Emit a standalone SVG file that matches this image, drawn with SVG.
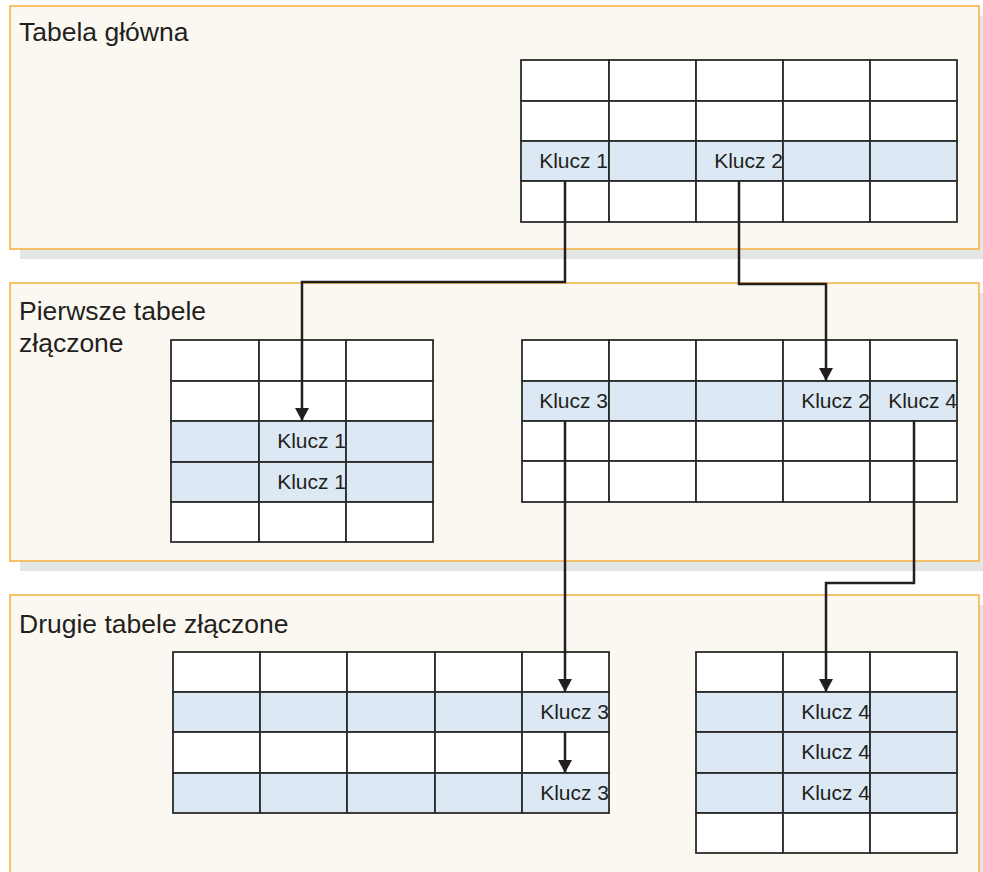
<svg xmlns="http://www.w3.org/2000/svg" width="983" height="872" viewBox="0 0 983 872">
<defs>
<style>
.shadow{fill:#e4e5e7}
.panel{fill:#fbf8f1;stroke:#f4b547;stroke-width:1.6}
.cell{fill:#ffffff;stroke:#2b2b2b;stroke-width:1.8}
.hl{fill:#dce9f4;stroke:#2b2b2b;stroke-width:1.8}
.title{font-family:"Liberation Sans",Arial,sans-serif;font-size:26.5px;fill:#231f20}
.key{font-family:"Liberation Sans",Arial,sans-serif;font-size:21px;fill:#231f20;text-anchor:end}
.conn{fill:none;stroke:#231f20;stroke-width:2.5;stroke-linejoin:miter}
</style>
<marker id="arr" markerWidth="14" markerHeight="14" refX="13" refY="7" orient="auto" markerUnits="userSpaceOnUse" viewBox="0 0 14 14">
<path d="M0,0 L13,7 L0,14 Z" fill="#231f20"/>
</marker>
</defs>

<g id="panel-main">
<rect class="shadow" x="20" y="16" width="970" height="243"/>
<rect class="panel" x="10" y="6" width="969" height="243"/>
<text class="title" x="19" y="41">Tabela główna</text>
</g>
<g id="panel-first">
<rect class="shadow" x="20" y="293" width="970" height="278"/>
<rect class="panel" x="10" y="283" width="969" height="278"/>
<text class="title" x="19" y="320">Pierwsze tabele</text>
<text class="title" x="19" y="352">złączone</text>
</g>
<g id="panel-second">
<rect class="shadow" x="20" y="605" width="970" height="290"/>
<rect class="panel" x="10" y="595" width="969" height="290"/>
<text class="title" x="19" y="633">Drugie tabele złączone</text>
</g>

<g id="table-main">
<rect class="cell" x="521" y="60" width="88" height="41"/><rect class="cell" x="609" y="60" width="87" height="41"/><rect class="cell" x="696" y="60" width="87" height="41"/><rect class="cell" x="783" y="60" width="87" height="41"/><rect class="cell" x="870" y="60" width="87" height="41"/>
<rect class="cell" x="521" y="101" width="88" height="40"/><rect class="cell" x="609" y="101" width="87" height="40"/><rect class="cell" x="696" y="101" width="87" height="40"/><rect class="cell" x="783" y="101" width="87" height="40"/><rect class="cell" x="870" y="101" width="87" height="40"/>
<rect class="hl" x="521" y="141" width="88" height="40"/><rect class="hl" x="609" y="141" width="87" height="40"/><rect class="hl" x="696" y="141" width="87" height="40"/><rect class="hl" x="783" y="141" width="87" height="40"/><rect class="hl" x="870" y="141" width="87" height="40"/>
<rect class="cell" x="521" y="181" width="88" height="41"/><rect class="cell" x="609" y="181" width="87" height="41"/><rect class="cell" x="696" y="181" width="87" height="41"/><rect class="cell" x="783" y="181" width="87" height="41"/><rect class="cell" x="870" y="181" width="87" height="41"/>
<text class="key" x="608" y="168">Klucz 1</text>
<text class="key" x="783" y="168">Klucz 2</text>
</g>

<g id="table-first-left">
<rect class="cell" x="171" y="340" width="88" height="41"/><rect class="cell" x="259" y="340" width="87" height="41"/><rect class="cell" x="346" y="340" width="87" height="41"/>
<rect class="cell" x="171" y="381" width="88" height="40"/><rect class="cell" x="259" y="381" width="87" height="40"/><rect class="cell" x="346" y="381" width="87" height="40"/>
<rect class="hl" x="171" y="421" width="88" height="41"/><rect class="hl" x="259" y="421" width="87" height="41"/><rect class="hl" x="346" y="421" width="87" height="41"/>
<rect class="hl" x="171" y="462" width="88" height="40"/><rect class="hl" x="259" y="462" width="87" height="40"/><rect class="hl" x="346" y="462" width="87" height="40"/>
<rect class="cell" x="171" y="502" width="88" height="40"/><rect class="cell" x="259" y="502" width="87" height="40"/><rect class="cell" x="346" y="502" width="87" height="40"/>
<text class="key" x="346" y="448">Klucz 1</text>
<text class="key" x="346" y="489">Klucz 1</text>
</g>

<g id="table-first-right">
<rect class="cell" x="522" y="340" width="87" height="41"/><rect class="cell" x="609" y="340" width="87" height="41"/><rect class="cell" x="696" y="340" width="87" height="41"/><rect class="cell" x="783" y="340" width="87" height="41"/><rect class="cell" x="870" y="340" width="87" height="41"/>
<rect class="hl" x="522" y="381" width="87" height="40"/><rect class="hl" x="609" y="381" width="87" height="40"/><rect class="hl" x="696" y="381" width="87" height="40"/><rect class="hl" x="783" y="381" width="87" height="40"/><rect class="hl" x="870" y="381" width="87" height="40"/>
<rect class="cell" x="522" y="421" width="87" height="40"/><rect class="cell" x="609" y="421" width="87" height="40"/><rect class="cell" x="696" y="421" width="87" height="40"/><rect class="cell" x="783" y="421" width="87" height="40"/><rect class="cell" x="870" y="421" width="87" height="40"/>
<rect class="cell" x="522" y="461" width="87" height="41"/><rect class="cell" x="609" y="461" width="87" height="41"/><rect class="cell" x="696" y="461" width="87" height="41"/><rect class="cell" x="783" y="461" width="87" height="41"/><rect class="cell" x="870" y="461" width="87" height="41"/>
<text class="key" x="608" y="408">Klucz 3</text>
<text class="key" x="870" y="408">Klucz 2</text>
<text class="key" x="957" y="408">Klucz 4</text>
</g>

<g id="table-second-left">
<rect class="cell" x="173" y="652" width="87" height="40"/><rect class="cell" x="260" y="652" width="87" height="40"/><rect class="cell" x="347" y="652" width="88" height="40"/><rect class="cell" x="435" y="652" width="87" height="40"/><rect class="cell" x="522" y="652" width="87" height="40"/>
<rect class="hl" x="173" y="692" width="87" height="40"/><rect class="hl" x="260" y="692" width="87" height="40"/><rect class="hl" x="347" y="692" width="88" height="40"/><rect class="hl" x="435" y="692" width="87" height="40"/><rect class="hl" x="522" y="692" width="87" height="40"/>
<rect class="cell" x="173" y="732" width="87" height="41"/><rect class="cell" x="260" y="732" width="87" height="41"/><rect class="cell" x="347" y="732" width="88" height="41"/><rect class="cell" x="435" y="732" width="87" height="41"/><rect class="cell" x="522" y="732" width="87" height="41"/>
<rect class="hl" x="173" y="773" width="87" height="40"/><rect class="hl" x="260" y="773" width="87" height="40"/><rect class="hl" x="347" y="773" width="88" height="40"/><rect class="hl" x="435" y="773" width="87" height="40"/><rect class="hl" x="522" y="773" width="87" height="40"/>
<text class="key" x="609" y="719">Klucz 3</text>
<text class="key" x="609" y="800">Klucz 3</text>
</g>

<g id="table-second-right">
<rect class="cell" x="696" y="652" width="87" height="40"/><rect class="cell" x="783" y="652" width="87" height="40"/><rect class="cell" x="870" y="652" width="87" height="40"/>
<rect class="hl" x="696" y="692" width="87" height="40"/><rect class="hl" x="783" y="692" width="87" height="40"/><rect class="hl" x="870" y="692" width="87" height="40"/>
<rect class="hl" x="696" y="732" width="87" height="41"/><rect class="hl" x="783" y="732" width="87" height="41"/><rect class="hl" x="870" y="732" width="87" height="41"/>
<rect class="hl" x="696" y="773" width="87" height="40"/><rect class="hl" x="783" y="773" width="87" height="40"/><rect class="hl" x="870" y="773" width="87" height="40"/>
<rect class="cell" x="696" y="813" width="87" height="40"/><rect class="cell" x="783" y="813" width="87" height="40"/><rect class="cell" x="870" y="813" width="87" height="40"/>
<text class="key" x="870" y="719">Klucz 4</text>
<text class="key" x="870" y="759">Klucz 4</text>
<text class="key" x="870" y="800">Klucz 4</text>
</g>

<g id="connectors">
<path class="conn" d="M565,181 V282 H302 V421" marker-end="url(#arr)"/>
<path class="conn" d="M739,181 V284 H826 V381" marker-end="url(#arr)"/>
<path class="conn" d="M565,421 V692" marker-end="url(#arr)"/>
<path class="conn" d="M914,421 V583 H826 V692" marker-end="url(#arr)"/>
<path class="conn" d="M565,732 V773" marker-end="url(#arr)"/>
</g>
</svg>
